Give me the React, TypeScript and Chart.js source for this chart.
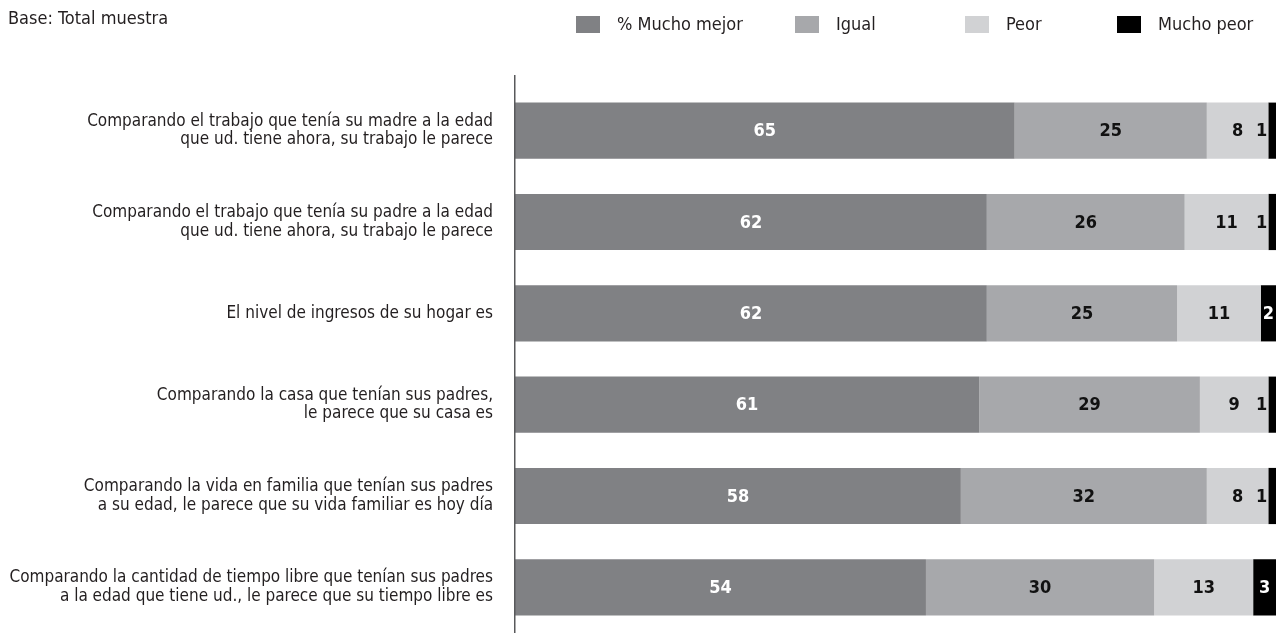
import React, { useEffect, useRef } from "react";
import { Chart, registerables } from "chart.js";

Chart.register(...registerables);

const FONT = "'Liberation Sans Narrow', 'Arial Narrow', 'DejaVu Sans Condensed', sans-serif";

const categories: (string | string[])[] = [
  ["Comparando el trabajo que tenía su madre a la edad", "que ud. tiene ahora, su trabajo le parece"],
  ["Comparando el trabajo que tenía su padre a la edad", "que ud. tiene ahora, su trabajo le parece"],
  "El nivel de ingresos de su hogar es",
  ["Comparando la casa que tenían sus padres,", "le parece que su casa es"],
  ["Comparando la vida en familia que tenían sus padres", "a su edad, le parece que su vida familiar es hoy día"],
  ["Comparando la cantidad de tiempo libre que tenían sus padres", "a la edad que tiene ud., le parece que su tiempo libre es"],
];

const seriesNames = ["% Mucho mejor", "Igual", "Peor", "Mucho peor"];
const muchoMejor = [65, 62, 62, 61, 58, 54];
const igual = [25, 26, 25, 29, 32, 30];
const peor = [8, 11, 11, 9, 8, 13];
const muchoPeor = [1, 1, 2, 1, 1, 3];

const colors = ["#808184", "#a7a8ab", "#d1d2d4", "#000000"];
const labelColors = ["#ffffff", "#111111", "#111111", "#ffffff"];
const titleText = "Base: Total muestra";
const legendX = [576, 795, 965, 1117];

const raw = [muchoMejor, igual, peor, muchoPeor];
const totals = categories.map((_, i) => raw.reduce((s, arr) => s + arr[i], 0));

const overlayPlugin = {
  id: "overlay",
  afterDatasetsDraw(chart: any) {
    const ctx = chart.ctx;
    const area = chart.chartArea;
    ctx.save();
    // axis line
    ctx.strokeStyle = "#58595b";
    ctx.lineWidth = 1.5;
    ctx.beginPath();
    ctx.moveTo(area.left - 0.25, 75);
    ctx.lineTo(area.left - 0.25, chart.height);
    ctx.stroke();

    // value labels
    ctx.font = `bold 18px ${FONT}`;
    ctx.textBaseline = "middle";
    raw.forEach((arr, di) => {
      const meta = chart.getDatasetMeta(di);
      meta.data.forEach((el: any, i: number) => {
        const v = arr[i];
        const left = Math.min(el.x, el.base);
        const right = Math.max(el.x, el.base);
        const w = right - left;
        if (di === 3 && w < 8) {
          ctx.fillStyle = "#111111";
          ctx.textAlign = "right";
          ctx.fillText(String(v), left - 1, el.y + 1);
        } else {
          ctx.fillStyle = labelColors[di];
          ctx.textAlign = "center";
          ctx.fillText(String(v), (left + right) / 2, el.y + 1);
        }
      });
    });

    // title
    ctx.font = `18px ${FONT}`;
    ctx.fillStyle = "#231f20";
    ctx.textAlign = "left";
    ctx.fillText(titleText, 8, 19);

    // legend
    seriesNames.forEach((name, i) => {
      const x = legendX[i];
      ctx.fillStyle = colors[i];
      ctx.fillRect(x, 16, 24, 17);
      ctx.fillStyle = "#231f20";
      ctx.font = `18px ${FONT}`;
      ctx.fillText(name, x + 41, 25);
    });
    ctx.restore();
  },
};

export default function App() {
  const ref = useRef<HTMLCanvasElement | null>(null);
  useEffect(() => {
    if (!ref.current) return;
    const chart = new Chart(ref.current, {
      type: "bar",
      data: {
        labels: categories,
        datasets: raw.map((arr, di) => ({
          label: seriesNames[di],
          data: arr.map((v, i) => (v / totals[i]) * 100),
          backgroundColor: colors[di],
          borderWidth: 0,
          categoryPercentage: 1,
          barPercentage: 0.615,
        })),
      },
      options: {
        indexAxis: "y",
        responsive: false,
        animation: false,
        layout: { padding: { left: 0, right: 6, top: 85, bottom: 0 } },
        plugins: {
          legend: { display: false },
          tooltip: { enabled: false },
          title: { display: false },
        },
        scales: {
          x: {
            stacked: true,
            min: 0,
            max: 100,
            display: false,
          },
          y: {
            stacked: true,
            grid: { display: false, drawTicks: false },
            border: { display: false },
            ticks: {
              color: "#231f20",
              font: { family: FONT, size: 17, lineHeight: 1.1 },
              padding: 22,
            },
            afterFit: (scale: any) => {
              scale.width = 515;
              scale.paddingTop = 0;
              scale.paddingBottom = 0;
            },
          },
        },
      },
      plugins: [overlayPlugin],
    });
    return () => chart.destroy();
  }, []);
  return (
    <div style={{ position: "absolute", left: 0, top: 0, width: 1282, height: 633, background: "#fff" }}>
      <canvas ref={ref} width={1282} height={633} style={{ display: "block" }} />
    </div>
  );
}
